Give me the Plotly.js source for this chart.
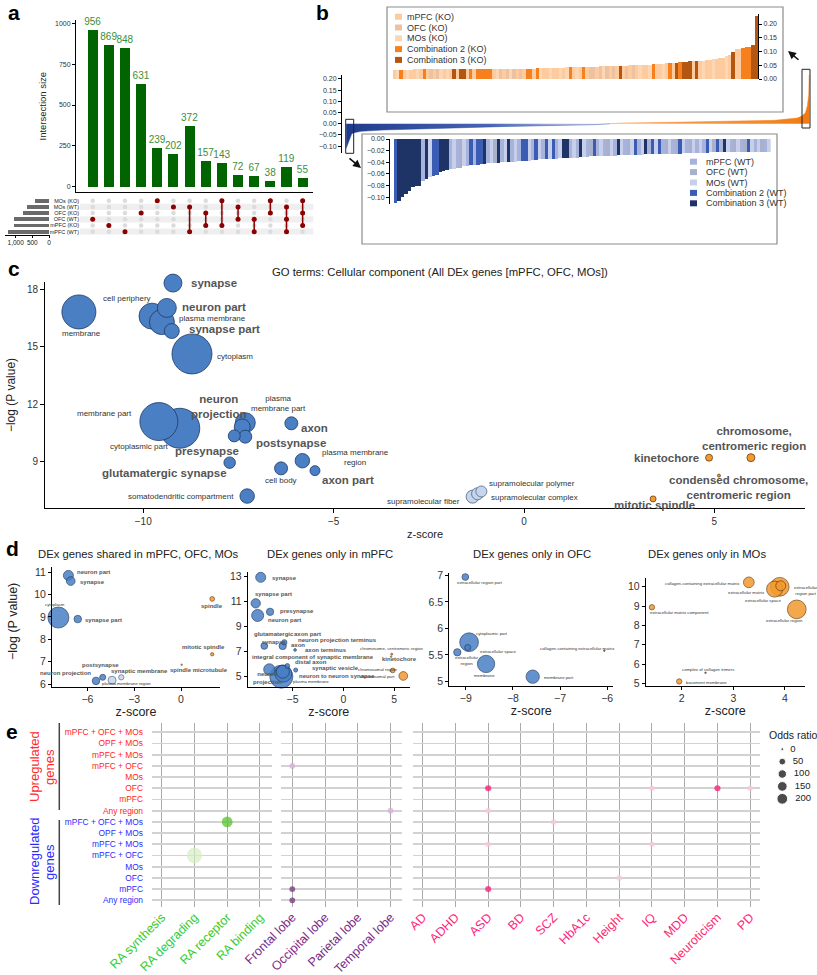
<!DOCTYPE html>
<html>
<head>
<meta charset="utf-8">
<script src="https://cdn.plot.ly/plotly-3.0.1.min.js"></script>
<style>
  html, body { margin: 0; padding: 0; background: #fff; }
  #fig { width: 817px; height: 975px; }
</style>
</head>
<body>
<div id="fig"></div>
<script>
// ---------- panel a: UpSet plot ----------
const setNames = ['MOs (KO)', 'MOs (WT)', 'OFC (KO)', 'OFC (WT)', 'mPFC (KO)', 'mPFC (WT)'];
const setSizes = [420, 670, 770, 1050, 1050, 1220];
const intersectSizes = [956, 869, 848, 631, 239, 202, 372, 157, 143, 72, 67, 38, 119, 55];
const intersectMembers = [
  ['OFC (WT)'], ['mPFC (KO)'], ['mPFC (WT)'], ['OFC (KO)'], ['MOs (KO)'], ['MOs (WT)'],
  ['MOs (WT)', 'mPFC (WT)'], ['OFC (KO)', 'mPFC (KO)'], ['MOs (KO)', 'mPFC (KO)'],
  ['MOs (WT)', 'OFC (WT)'], ['OFC (WT)', 'mPFC (WT)'], ['MOs (KO)', 'OFC (KO)'],
  ['MOs (WT)', 'OFC (WT)', 'mPFC (WT)'], ['MOs (KO)', 'OFC (KO)', 'mPFC (KO)']
];
const setSizeTicks = [0, 500, 1000];

// ---------- panel b: ranked effect sizes ----------
const wfRank  = [0, 0.4, 0.8, 1.2, 1.7, 3.2, 8, 13.9, 20, 28.3, 35, 42.4, 48, 54, 57, 60, 70, 78.2, 85, 92.5, 97.4, 98.5, 99.2, 99.6, 99.9, 100];
const wfValue = [-0.11, -0.085, -0.06, -0.045, -0.04, -0.034, -0.028, -0.024, -0.019, -0.015, -0.012, -0.009, -0.007, -0.004, 0, 0.003, 0.006, 0.009, 0.012, 0.015, 0.025, 0.035, 0.05, 0.08, 0.13, 0.23];

// top genes (KO side), in rank order
const koValues = [
  0.034, 0.034, 0.034, 0.034, 0.034, 0.034, 0.035, 0.035, 0.035, 0.035,
  0.035, 0.035, 0.035, 0.035, 0.035, 0.035, 0.035, 0.036, 0.036, 0.036,
  0.036, 0.036, 0.036, 0.036, 0.036, 0.036, 0.036, 0.036, 0.036, 0.036,
  0.037, 0.037, 0.037, 0.037, 0.037, 0.037, 0.037, 0.037, 0.038, 0.038,
  0.038, 0.038, 0.038, 0.039, 0.039, 0.039, 0.040, 0.040, 0.040, 0.041,
  0.041, 0.041, 0.042, 0.042, 0.042, 0.043, 0.043, 0.044, 0.044, 0.044,
  0.045, 0.045, 0.046, 0.046, 0.047, 0.047, 0.048, 0.048, 0.049, 0.049,
  0.049, 0.050, 0.050, 0.050, 0.051, 0.051, 0.052, 0.052, 0.053, 0.054,
  0.055, 0.056, 0.057, 0.058, 0.059, 0.060, 0.061, 0.062, 0.063, 0.064,
  0.065, 0.066, 0.066, 0.067, 0.068, 0.070, 0.072, 0.074, 0.076, 0.078,
  0.082, 0.086, 0.100, 0.108, 0.110, 0.113, 0.115, 0.116, 0.124, 0.230
];
// m = mPFC, o = OFC, s = MOs, 2 = combination 2, 3 = combination 3
const koGroups = ('ms2msmmsm2' + 'momosmsm3m' + '33m2m22222' + 'msomosomom' + '22m2smmsmm' +
  'sms2msm2mo' + 'omosomom3m' + 'omomsmms2m' + 'msm2m32333' + 'm3msmmsmmm' + 'sm3mm22233').split('');

// bottom genes (WT side), in rank order
const wtValues = [
  -0.110, -0.106, -0.100, -0.095, -0.090, -0.082, -0.081, -0.080, -0.072, -0.068,
  -0.065, -0.063, -0.062, -0.056, -0.055, -0.054, -0.052, -0.051, -0.050, -0.049,
  -0.047, -0.046, -0.045, -0.044, -0.044, -0.043, -0.043, -0.042, -0.042, -0.041,
  -0.041, -0.040, -0.040, -0.040, -0.039, -0.039, -0.038, -0.038, -0.038, -0.037,
  -0.036, -0.036, -0.035, -0.035, -0.035, -0.034, -0.034, -0.034, -0.033, -0.033,
  -0.033, -0.032, -0.032, -0.032, -0.031, -0.031, -0.031, -0.030, -0.030, -0.030,
  -0.030, -0.029, -0.029, -0.029, -0.029, -0.028, -0.028, -0.028, -0.028, -0.027,
  -0.027, -0.027, -0.027, -0.026, -0.026, -0.026, -0.026, -0.026, -0.025, -0.025,
  -0.025, -0.025, -0.025, -0.025, -0.024, -0.024, -0.024, -0.024, -0.024, -0.024,
  -0.024, -0.024, -0.023, -0.023, -0.023, -0.023, -0.023, -0.023, -0.023, -0.022,
  -0.022, -0.022, -0.022, -0.022, -0.022, -0.022, -0.022, -0.022, -0.022, -0.022
];
const wtGroups = ('23333333m3' + 's22333msmo' + 'sm2m223mso' + '3ms3msm22s' + 'm2sm2s2ms3' +
  '3msm3smo2m' + 'smosm3smos' + '2ms3m2s2mo' + 'smo2smosms' + 'm2so2m3smo' + 'smo2smsoms').split('');

const groupKeys = ['m', 'o', 's', '2', '3'];
const koNames = ['mPFC (KO)', 'OFC (KO)', 'MOs (KO)', 'Combination 2 (KO)', 'Combination 3 (KO)'];
const wtNames = ['mPFC (WT)', 'OFC (WT)', 'MOs (WT)', 'Combination 2 (WT)', 'Combination 3 (WT)'];

// ---------- panel c: GO cellular component ----------
const cTerm = ['synapse', 'cell periphery', 'neuron part', 'plasma membrane', 'synapse part', 'membrane',
  'cytoplasm', 'membrane part', 'cytoplasmic part', 'plasma membrane part', 'neuron projection',
  'presynapse', 'postsynapse', 'axon', 'glutamatergic synapse', 'cell body', 'plasma membrane region',
  'axon part', 'somatodendritic compartment', 'supramolecular fiber', 'supramolecular complex',
  'supramolecular polymer', 'kinetochore', 'chromosome, centromeric region',
  'condensed chromosome, centromeric region', 'mitotic spindle'];
const cZ    = [-9.22, -9.77, -9.38, -9.51, -9.25, -11.69, -8.72, -9.59, -9.04, -7.32, -7.40, -7.61, -7.32, -6.11, -7.73, -6.38, -5.82, -5.49, -7.27, -1.35, -1.22, -1.12, 4.86, 5.96, 5.12, 3.39];
const cLogP = [18.33, 16.6, 17.03, 16.29, 15.82, 16.82, 14.62, 11.08, 10.73, 11.02, 10.8, 10.33, 10.29, 10.99, 8.93, 8.63, 9.03, 8.51, 7.18, 7.15, 7.3, 7.42, 9.19, 9.19, 8.25, 7.03];
const cSize = [18, 26, 19, 25, 15, 34, 40, 38, 40, 20, 16, 12, 13, 13, 11.5, 13, 14.5, 10, 14.5, 13, 12, 11, 7, 8, 3, 6];
const cDir  = ['down', 'down', 'down', 'down', 'down', 'down', 'down', 'down', 'down', 'down', 'down', 'down', 'down',
  'down', 'down', 'down', 'down', 'down', 'down', 'weak', 'weak', 'weak', 'up', 'up', 'up', 'up'];
// label text, x, y, anchor, large
const cLabels = [
  ['synapse', -8.8, 18.35, 'left', 1], ['cell periphery', -10.42, 17.53, 'center', 0],
  ['neuron part', -9.04, 17.09, 'left', 1], ['plasma membrane', -9.11, 16.45, 'left', 0],
  ['synapse part', -8.86, 15.91, 'left', 1], ['membrane', -11.62, 15.7, 'center', 0],
  ['cytoplasm', -8.12, 14.51, 'left', 0], ['neuron<br>projection', -8.02, 11.86, 'center', 1],
  ['plasma<br>membrane part', -7.23, 12.04, 'left', 0], ['membrane part', -10.25, 11.48, 'right', 0],
  ['cytoplasmic part', -10.1, 9.77, 'center', 0], ['presynapse', -7.43, 9.56, 'right', 1],
  ['postsynapse', -7.1, 9.94, 'left', 1], ['axon', -5.9, 10.75, 'left', 1],
  ['plasma membrane<br>region', -5.36, 9.21, 'left', 0], ['glutamatergic synapse', -7.76, 8.37, 'right', 1],
  ['cell body', -6.38, 7.99, 'center', 0], ['axon part', -5.36, 8.02, 'left', 1],
  ['somatodendritic compartment', -7.57, 7.15, 'right', 0], ['supramolecular polymer', -0.98, 7.85, 'left', 0],
  ['supramolecular complex', -0.92, 7.12, 'left', 0], ['supramolecular fiber', -1.63, 6.91, 'right', 0],
  ['chromosome,<br>centromeric region', 6.05, 10.2, 'center', 1], ['kinetochore', 4.64, 9.19, 'right', 1],
  ['condensed chromosome,<br>centromeric region', 5.64, 7.62, 'center', 1], ['mitotic spindle', 3.43, 6.71, 'center', 1]
];

// ---------- panel d: GO terms per gene set (term, z, -logP, bubble, direction) ----------
const dShared = [
  ['neuron part', -7.22, 10.85, 10, 'down'], ['synapse', -7.07, 10.6, 8.7, 'down'],
  ['cytoplasm', -7.86, 8.97, 21, 'down'], ['synapse part', -6.62, 8.9, 7.5, 'down'],
  ['spindle', 2.0, 9.8, 4.7, 'up'], ['mitotic spindle', 2.0, 7.33, 3.3, 'up'],
  ['spindle microtubule', 0.04, 6.86, 1.5, 'up'], ['postsynapse', -5.02, 6.3, 6, 'down'],
  ['neuron projection', -5.45, 6.14, 7.5, 'down'], ['synaptic membrane', -3.83, 6.3, 5.3, 'weak'],
  ['plasma membrane region', -4.42, 6.17, 8, 'weak']
];
const dSharedLabels = [
  ['neuron part', -6.79, 10.99, 'left', 1], ['synapse', -6.58, 10.54, 'left', 1],
  ['cytoplasm', -8.08, 9.53, 'center', 0], ['synapse part', -6.26, 8.86, 'left', 1],
  ['spindle', 1.99, 9.48, 'center', 1], ['mitotic spindle', 1.43, 7.67, 'center', 1],
  ['spindle microtubule', 1.13, 6.63, 'center', 1], ['postsynapse', -5.19, 6.83, 'center', 1],
  ['neuron projection', -7.39, 6.48, 'center', 1], ['synaptic membrane', -2.63, 6.58, 'center', 1],
  ['plasma membrane region', -3.48, 6.03, 'center', 0]
];
const dMpfc = [
  ['plasma membrane', -6.1, 5.0, 23, 'down'], ['neuron to neuron synapse', -5.9, 5.25, 17, 'down'],
  ['integral component of synaptic membrane', -5.95, 5.4, 13, 'down'],
  ['synapse', -8.13, 12.95, 10, 'down'], ['synapse part', -8.62, 10.87, 9.3, 'down'],
  ['neuron part', -8.43, 9.9, 12, 'down'], ['presynapse', -7.21, 10.19, 7.3, 'down'],
  ['glutamatergic synapse', -7.78, 7.46, 6.7, 'down'], ['axon part', -5.81, 7.75, 5.3, 'down'],
  ['axon', -5.97, 7.46, 7.3, 'down'], ['axon terminus', -4.75, 7.14, 2.7, 'down'],
  ['distal axon', -5.51, 5.86, 4.7, 'down'], ['synaptic vesicle', -4.69, 5.53, 4, 'down'],
  ['neuron projection', -7.28, 5.58, 11.3, 'down'],
  ['chromosome, centromeric region', 4.76, 6.8, 2, 'up'], ['kinetochore', 4.7, 6.6, 1.5, 'up'],
  ['chromosomal region', 4.86, 5.5, 4.7, 'up'], ['chromosomal part', 5.9, 5.06, 8.7, 'up']
];
const dMpfcLabels = [
  ['synapse', -7.21, 12.92, 'left', 1], ['synapse part', -8.86, 11.62, 'left', 1],
  ['presynapse', -6.4, 10.28, 'left', 1], ['neuron part', -7.64, 9.51, 'left', 1],
  ['glutamatergic<br>synapse', -8.96, 8.12, 'left', 1], ['axon part', -5.08, 8.39, 'left', 1],
  ['neuron projection terminus', -4.69, 7.91, 'left', 1], ['axon', -5.31, 7.51, 'left', 1],
  ['axon terminus', -3.94, 7.14, 'left', 1], ['integral component of synaptic membrane', -9.18, 6.6, 'left', 1],
  ['distal axon', -4.92, 6.15, 'left', 1], ['synaptic vesicle', -3.28, 5.67, 'left', 1],
  ['neuron to neuron synapse', -4.59, 5.06, 'left', 1], ['neuron<br>projection', -9.11, 4.92, 'left', 1],
  ['plasma membrane', -5.18, 4.63, 'left', 0], ['chromosome, centromeric region', 1.48, 7.27, 'left', 0],
  ['kinetochore', 3.61, 6.44, 'left', 1], ['chromosomal region', 1.25, 5.54, 'left', 0],
  ['chromosomal part', 1.48, 5.0, 'left', 0]
];
const dOfc = [
  ['cytoplasmic part', -8.93, 5.74, 18.7, 'down'], ['membrane', -8.57, 5.33, 17.3, 'down'],
  ['membrane part', -7.58, 5.09, 13.3, 'down'], ['extracellular region part', -9.01, 6.97, 6.7, 'down'],
  ['extracellular region', -9.18, 5.55, 7.3, 'down'], ['extracellular space', -8.96, 5.64, 6, 'down'],
  ['collagen-containing extracellular matrix', -6.06, 5.58, 1.5, 'dot']
];
const dOfcLabels = [
  ['extracellular region part', -9.23, 6.86, 'left', 0], ['cytoplasmic part', -8.83, 5.91, 'left', 0],
  ['extracellular space', -8.75, 5.56, 'left', 0], ['extracellular<br>region', -9.28, 5.39, 'left', 0],
  ['membrane', -8.6, 5.11, 'center', 0], ['membrane part', -7.39, 5.07, 'left', 0],
  ['collagen-containing extracellular matrix', -6.64, 5.63, 'center', 0]
];
const dMos = [
  ['extracellular region', 4.23, 8.83, 18.7, 'up'], ['extracellular region part', 3.90, 10.0, 18.7, 'up'],
  ['extracellular matrix', 3.80, 9.88, 16, 'up'], ['collagen-containing extracellular matrix', 3.30, 10.23, 10.7, 'up'],
  ['extracellular space', 3.92, 10.05, 10, 'up'], ['extracellular matrix component', 1.42, 8.94, 5.3, 'up'],
  ['basement membrane', 1.95, 5.10, 5.3, 'up'], ['complex of collagen trimers', 2.46, 5.55, 1.5, 'dot']
];
const dMosLabels = [
  ['collagen-containing extracellular matrix', 3.16, 10.18, 'right', 0], ['extracellular matrix', 3.66, 9.71, 'right', 0],
  ['extracellular space', 3.58, 9.3, 'center', 0], ['extracellular<br>region part', 4.13, 9.83, 'left', 0],
  ['extracellular region', 4.0, 8.23, 'center', 0], ['extracellular matrix component', 1.35, 8.66, 'left', 0],
  ['complex of collagen trimers', 2.5, 5.73, 'center', 0], ['basement membrane', 2.05, 5.05, 'left', 0]
];

// ---------- panel e: enrichment dot plot ----------
const eRowLabels = ['mPFC + OFC + MOs', 'OPF + MOs', 'mPFC + MOs', 'mPFC + OFC', 'MOs', 'OFC', 'mPFC', 'Any region'];
const raCols = ['RA synthesis', 'RA degrading', 'RA receptor', 'RA binding'];
const lobeCols = ['Frontal lobe', 'Occipital lobe', 'Parietal lobe', 'Temporal lobe'];
const traitCols = ['AD', 'ADHD', 'ASD', 'BD', 'SCZ', 'HbA1c', 'Height', 'IQ', 'MDD', 'Neuroticism', 'PD'];
const eHitCol = ['Frontal lobe', 'Temporal lobe', 'RA receptor', 'RA degrading', 'Frontal lobe', 'Frontal lobe',
  'ASD', 'IQ', 'Neuroticism', 'PD', 'ASD', 'SCZ', 'ASD', 'IQ', 'Height', 'ASD'];
const eHitDir = ['up', 'up', 'down', 'down', 'down', 'down', 'up', 'up', 'up', 'up', 'up', 'down', 'down', 'down', 'down', 'down'];
const eHitRow = ['mPFC + OFC', 'Any region', 'mPFC + OFC + MOs', 'mPFC + OFC', 'mPFC', 'Any region', 'OFC', 'OFC',
  'OFC', 'OFC', 'Any region', 'mPFC + OFC + MOs', 'mPFC + MOs', 'mPFC + MOs', 'OFC', 'mPFC'];
const eHitOR = [30, 30, 200, 500, 30, 30, 35, 30, 35, 30, 30, 30, 30, 30, 30, 35];
const eHitStrong = [0, 0, 1, 0, 1, 1, 1, 0, 1, 0, 0, 0, 0, 0, 0, 1];
const orLegend = [0, 50, 100, 150, 200];

// ---------- helpers ----------
const W = 817, H = 975;
const FONT = 'Arial, "Liberation Sans", sans-serif';
const fx = p => p / W;
const fy = p => 1 - p / H;
const domX = (a, b) => [fx(a), fx(b)];
const domY = (top, bottom) => [fy(bottom), fy(top)];
const orSize = v => 2.7 + 0.57 * Math.sqrt(v);

const traces = [];
const annotations = [];
const shapes = [];
const layout = {
  width: W, height: H, margin: { l: 0, r: 0, t: 0, b: 0 },
  paper_bgcolor: '#fff', plot_bgcolor: 'rgba(0,0,0,0)',
  showlegend: false, barmode: 'overlay', bargap: 0,
  font: { family: FONT, color: '#222' },
  annotations: annotations, shapes: shapes
};
const lineAxis = {
  showline: true, linecolor: '#000', linewidth: 1, ticks: 'outside', ticklen: 3, tickcolor: '#000',
  showgrid: false, zeroline: false, tickfont: { size: 10, color: '#333' }
};

// ---------- panel a ----------
const barPx0 = 92.7, barStep = 16.15;
const barRange = (a, b) => [(a - barPx0) / barStep, (b - barPx0) / barStep];
const idx = intersectSizes.map((v, i) => i);

layout.xaxis = { domain: domX(76, 313.3), range: barRange(76, 313.3), anchor: 'y', showline: true, linecolor: '#000',
  showticklabels: false, ticks: '', showgrid: false, zeroline: false };
layout.yaxis = Object.assign({}, lineAxis, { domain: domY(20, 192.3), range: [-34, 1020], anchor: 'x',
  tickvals: [0, 250, 500, 750, 1000], tickfont: { size: 7, color: '#333' },
  title: { text: 'Intersection size', font: { size: 9.5 }, standoff: 6 } });
traces.push({ type: 'bar', x: idx, y: intersectSizes, xaxis: 'x', yaxis: 'y', width: 0.62,
  marker: { color: '#006400' }, text: intersectSizes.map(String), textposition: 'outside', constraintext: 'none',
  textfont: { size: 10, color: '#3A8F3A' }, cliponaxis: false, hoverinfo: 'skip' });

layout.xaxis2 = { domain: domX(80, 313.3), range: barRange(80, 313.3), anchor: 'y2', visible: false };
layout.yaxis2 = { domain: domY(197.6, 234.8), range: [5.5, -0.5], anchor: 'x2', tickvals: setNames.map((s, i) => i),
  ticktext: setNames, tickfont: { size: 5.5, color: '#222' }, ticks: '', showgrid: false, zeroline: false, showline: false };
setNames.forEach((s, j) => {
  if (s.indexOf('(WT)') >= 0) {
    shapes.push({ type: 'rect', xref: 'x2 domain', yref: 'y2', x0: 0, x1: 1, y0: j - 0.5, y1: j + 0.5,
      fillcolor: '#EFEFEF', line: { width: 0 }, layer: 'below' });
  }
});
const gx = [], gy = [], ax = [], ay = [], lx = [], ly = [];
intersectMembers.forEach((m, i) => {
  setNames.forEach((s, j) => { gx.push(i); gy.push(j); });
  const rows = m.map(s => setNames.indexOf(s));
  rows.forEach(r => { ax.push(i); ay.push(r); });
  if (rows.length > 1) { lx.push(i, i, null); ly.push(Math.min(...rows), Math.max(...rows), null); }
});
traces.push({ type: 'scatter', mode: 'markers', x: gx, y: gy, xaxis: 'x2', yaxis: 'y2',
  marker: { color: '#DCDCDC', size: 4.5 }, hoverinfo: 'skip' });
traces.push({ type: 'scatter', mode: 'lines', x: lx, y: ly, xaxis: 'x2', yaxis: 'y2',
  line: { color: '#8B0000', width: 1.5 }, hoverinfo: 'skip' });
traces.push({ type: 'scatter', mode: 'markers', x: ax, y: ay, xaxis: 'x2', yaxis: 'y2',
  marker: { color: '#8B0000', size: 5 }, hoverinfo: 'skip' });

// set sizes: horizontal bars growing leftwards
const ssRange = [1320, -30];
layout.xaxis3 = Object.assign({}, lineAxis, { domain: domX(5, 50), range: ssRange, anchor: 'y3',
  tickvals: setSizeTicks, showticklabels: false, ticklen: 2 });
layout.yaxis3 = { domain: domY(197.6, 234.8), range: [5.5, -0.5], anchor: 'x3', showline: false,
  showticklabels: false, ticks: '', showgrid: false, zeroline: false };
traces.push({ type: 'bar', orientation: 'h', x: setSizes, y: setNames.map((s, i) => i), xaxis: 'x3', yaxis: 'y3',
  width: 0.6, marker: { color: '#6A6A6A' }, hoverinfo: 'skip' });
// tick labels of the set-size axis, on a thin hidden strip that shares its x scale
layout.xaxis16 = { domain: domX(5, 50), range: ssRange, anchor: 'y16', visible: false };
layout.yaxis16 = { domain: domY(237, 249), range: [0, 1], anchor: 'x16', visible: false };
traces.push({ type: 'scatter', mode: 'text', x: setSizeTicks, y: setSizeTicks.map(() => 0.5), xaxis: 'x16', yaxis: 'y16',
  text: setSizeTicks.map(v => v.toLocaleString('en-US')), textposition: 'middle center', cliponaxis: false,
  textfont: { size: 6.5, color: '#222' }, hoverinfo: 'skip' });

// ---------- panel b ----------
layout.xaxis4 = { domain: domX(342, 812), range: [-0.9, 100.6], anchor: 'y4', visible: false };
layout.yaxis4 = Object.assign({}, lineAxis, { domain: domY(75, 153), range: [-0.1306, 0.2171], anchor: 'x4',
  tickvals: [-0.1, -0.05, 0, 0.05, 0.1, 0.15, 0.2], tickformat: '.2f', tickfont: { size: 7, color: '#333' } });
const negX = [], negY = [], posX = [], posY = [];
wfRank.forEach((r, i) => {
  if (wfValue[i] <= 0) { negX.push(r); negY.push(wfValue[i]); }
  if (wfValue[i] >= 0) { posX.push(r); posY.push(wfValue[i]); }
});
traces.push({ type: 'scatter', mode: 'lines', x: negX, y: negY, xaxis: 'x4', yaxis: 'y4', fill: 'tozeroy',
  line: { width: 0.5, color: '#2D4C9E' }, fillcolor: '#3556A8',
  fillgradient: { type: 'horizontal', colorscale: [[0, '#1E3A8C'], [0.55, '#4866B6'], [1, '#E8ECF6']] },
  hoverinfo: 'skip' });
traces.push({ type: 'scatter', mode: 'lines', x: posX, y: posY, xaxis: 'x4', yaxis: 'y4', fill: 'tozeroy',
  line: { width: 0.5, color: '#F58220' }, fillcolor: '#F58220',
  fillgradient: { type: 'horizontal', colorscale: [[0, '#FCE6D2'], [0.3, '#F6A458'], [1, '#F27A10']] },
  hoverinfo: 'skip' });

const koColors = { m: '#FDCB9E', o: '#ECC2A2', s: '#FDD6B3', '2': '#F7801E', '3': '#B4560F' };
const wtColors = { m: '#A7B3DA', o: '#A9B0CB', s: '#C8CFEA', '2': '#3A5CB5', '3': '#1F3466' };
function groupBars(values, groups, colors, xa, ya) {
  groupKeys.forEach(g => {
    const xs = [], ys = [];
    values.forEach((v, i) => { if (groups[i] === g) { xs.push(i); ys.push(v); } });
    traces.push({ type: 'bar', x: xs, y: ys, xaxis: xa, yaxis: ya, width: 1,
      marker: { color: colors[g], line: { width: 0 } }, hoverinfo: 'skip' });
  });
}
// KO inset
shapes.push({ type: 'rect', xref: 'paper', yref: 'paper', x0: fx(387), x1: fx(783), y0: fy(112), y1: fy(7),
  line: { color: '#8C8C8C', width: 1.2 }, fillcolor: '#fff', layer: 'below' });
layout.xaxis5 = { domain: domX(392.7, 758), range: [-0.5, 109.5], anchor: 'y5', visible: false };
layout.yaxis5 = Object.assign({}, lineAxis, { domain: domY(14.4, 79), range: [0, 0.235], anchor: 'x5', side: 'right',
  tickvals: [0, 0.05, 0.1, 0.15, 0.2], tickformat: '.2f', tickfont: { size: 7, color: '#333' } });
groupBars(koValues, koGroups, koColors, 'x5', 'y5');
// WT inset
shapes.push({ type: 'rect', xref: 'paper', yref: 'paper', x0: fx(362), x1: fx(777), y0: fy(244), y1: fy(134),
  line: { color: '#8C8C8C', width: 1.2 }, fillcolor: '#fff', layer: 'below' });
layout.xaxis6 = { domain: domX(394, 770.7), range: [-0.5, 109.5], anchor: 'y6', visible: false };
layout.yaxis6 = Object.assign({}, lineAxis, { domain: domY(139, 204), range: [-0.1115, 0], anchor: 'free',
  position: fx(389), tickvals: [0, -0.02, -0.04, -0.06, -0.08, -0.1], tickformat: '.2f', tickfont: { size: 7, color: '#333' } });
groupBars(wtValues, wtGroups, wtColors, 'x6', 'y6');

function swatchLegend(names, colors, sx, tx, y0, step) {
  names.forEach((n, i) => {
    const yc = y0 + i * step;
    shapes.push({ type: 'rect', xref: 'paper', yref: 'paper', x0: fx(sx), x1: fx(sx + 7), y0: fy(yc + 3), y1: fy(yc - 3),
      fillcolor: colors[groupKeys[i]], line: { width: 0 } });
    annotations.push({ xref: 'paper', yref: 'paper', x: fx(tx), y: fy(yc), text: n, showarrow: false,
      xanchor: 'left', yanchor: 'middle', font: { size: 9, color: '#333' } });
  });
}
swatchLegend(koNames, koColors, 395, 405, 16.7, 10.8);
swatchLegend(wtNames, wtColors, 690, 704, 161.7, 10.4);

// zoom boxes and arrows
shapes.push({ type: 'rect', xref: 'paper', yref: 'paper', x0: fx(345.7), x1: fx(353.7), y0: fy(153.3), y1: fy(119.3),
  line: { color: '#222', width: 1 } });
shapes.push({ type: 'rect', xref: 'paper', yref: 'paper', x0: fx(802), x1: fx(810), y0: fy(128), y1: fy(69.3),
  line: { color: '#222', width: 1 } });
annotations.push({ xref: 'paper', yref: 'paper', x: fx(361), y: fy(168), ax: -13, ay: -11, text: '', showarrow: true,
  arrowhead: 2, arrowsize: 1, arrowwidth: 1.6, arrowcolor: '#111' });
annotations.push({ xref: 'paper', yref: 'paper', x: fx(788), y: fy(51), ax: 12, ay: 10, text: '', showarrow: true,
  arrowhead: 2, arrowsize: 1, arrowwidth: 1.6, arrowcolor: '#111' });

// ---------- panel c ----------
const fillOf = { down: '#4A7FC4', weak: '#C6D5EC', up: '#F39A2E', dot: '#555' };
const edgeOf = { down: '#1E3A66', weak: '#4F6487', up: '#6B3F0C', dot: '#333' };
function bubbleTrace(terms, zs, ps, sizes, dirs, xa, ya, opacity) {
  const order = sizes.map((s, i) => i).sort((a, b) => sizes[b] - sizes[a]);
  traces.push({ type: 'scatter', mode: 'markers', xaxis: xa, yaxis: ya, cliponaxis: false,
    x: order.map(i => zs[i]), y: order.map(i => ps[i]), text: order.map(i => terms[i]), hoverinfo: 'text',
    marker: { size: order.map(i => sizes[i]), color: order.map(i => fillOf[dirs[i]]), opacity: opacity,
      line: { color: order.map(i => edgeOf[dirs[i]]), width: 0.8 } } });
}
function addLabels(list, xa, ya, bigSize, smallSize, bigBold, smallBold) {
  list.forEach(l => {
    const big = l[4] === 1;
    const bold = big ? bigBold : smallBold;
    annotations.push({ xref: xa, yref: ya, x: l[1], y: l[2], text: bold ? '<b>' + l[0] + '</b>' : l[0],
      xanchor: l[3], yanchor: 'middle', showarrow: false,
      font: { size: big ? bigSize : smallSize, color: bold ? '#555' : '#333' } });
  });
}
layout.xaxis7 = Object.assign({}, lineAxis, { domain: domX(45, 805), range: [-12.58, 7.38], anchor: 'y7',
  tickvals: [-10, -5, 0, 5], ticklen: 4,
  title: { text: 'z-score', font: { size: 11 }, standoff: 4 } });
layout.yaxis7 = Object.assign({}, lineAxis, { domain: domY(282, 508), range: [6.555, 18.387], anchor: 'x7',
  tickvals: [9, 12, 15, 18], ticklen: 4,
  title: { text: '\u2212log (P value)', font: { size: 12 }, standoff: 8 } });
bubbleTrace(cTerm, cZ, cLogP, cSize, cDir, 'x7', 'y7', 1);
addLabels(cLabels, 'x7', 'y7', 11.5, 8, true, false);
annotations.push({ xref: 'paper', yref: 'paper', x: fx(440), y: fy(272), text: 'GO terms: Cellular component (All DEx genes [mPFC, OFC, MOs])',
  showarrow: false, xanchor: 'center', yanchor: 'middle', font: { size: 11.3, color: '#222' } });

// ---------- panel d ----------
function dPanel(n, rows, labels, dx, dy, xr, yr, xt, yt, title, titleX) {
  layout['xaxis' + n] = Object.assign({}, lineAxis, { domain: domX(dx[0], dx[1]), range: xr, anchor: 'y' + n, tickvals: xt,
    tickfont: { size: 10.5, color: '#333' }, title: { text: 'z-score', font: { size: 12.5 }, standoff: 1 } });
  layout['yaxis' + n] = Object.assign({}, lineAxis, { domain: domY(dy[0], dy[1]), range: yr, anchor: 'x' + n, tickvals: yt,
    tickfont: { size: 10.5, color: '#333' } });
  bubbleTrace(rows.map(r => r[0]), rows.map(r => r[1]), rows.map(r => r[2]), rows.map(r => r[3]), rows.map(r => r[4]),
    'x' + n, 'y' + n, 0.85);
  addLabels(labels, 'x' + n, 'y' + n, 6, 4.3, true, false);
  annotations.push({ xref: 'paper', yref: 'paper', x: fx(titleX), y: fy(554), text: title, showarrow: false,
    xanchor: 'center', yanchor: 'middle', font: { size: 11.3, color: '#222' } });
}
dPanel(8, dShared, dSharedLabels, [52, 220], [566.7, 686.7], [-8.27, 2.5], [5.88, 11.24], [-6, -3, 0], [6, 7, 8, 9, 10, 11],
  'DEx genes shared in mPFC, OFC, MOs', 138);
dPanel(9, dMpfc, dMpfcLabels, [247.7, 410], [571.7, 686.7], [-9.41, 6.56], [4.2, 13.4], [-5, 0, 5], [5, 7, 9, 11, 13],
  'DEx genes only in mPFC', 330);
dPanel(10, dOfc, dOfcLabels, [449.3, 613.3], [573.3, 685.7], [-9.35, -5.87], [4.92, 7.04], [-9, -8, -7, -6], [5, 5.5, 6, 6.5, 7],
  'DEx genes only in OFC', 532);
dPanel(11, dMos, dMosLabels, [645.7, 805], [577.7, 685.7], [1.30, 4.39], [4.88, 10.47], [2, 3, 4], [5, 6, 7, 8, 9, 10],
  'DEx genes only in MOs', 707);
annotations.push({ xref: 'paper', yref: 'paper', x: fx(13), y: fy(622), text: '\u2212log (P value)', textangle: -90,
  showarrow: false, xanchor: 'center', yanchor: 'middle', font: { size: 12.5, color: '#222' } });

// ---------- panel e ----------
const eRowPx0 = 732.3, eRowStep = 11.2;
const eYRange = [(906.7 - eRowPx0) / eRowStep, (723 - eRowPx0) / eRowStep];
const eRowTick = eRowLabels.map(l => '<span style="color:#FF2424">' + l + '</span>')
  .concat(eRowLabels.map(l => '<span style="color:#2B2BFF">' + l + '</span>'));
const eGroups = [
  { cols: raCols, d0: 151.7, d1: 271.7, p0: 161.7, color: '#33CC33', hi: '#4CC11F', lo: '#D5ECC3' },
  { cols: lobeCols, d0: 281, d1: 401.7, p0: 292.3, color: '#7B2A85', hi: '#6E2A6E', lo: '#D7AADB' },
  { cols: traitCols, d0: 412.7, d1: 760, p0: 422.7, color: '#FF1F7A', hi: '#FF0A6C', lo: '#F9C6DE' }
];
const eColStep = 32.75;
eGroups.forEach((g, k) => {
  const n = 12 + k;
  layout['xaxis' + n] = { domain: domX(g.d0, g.d1), range: [(g.d0 - g.p0) / eColStep, (g.d1 - g.p0) / eColStep],
    anchor: 'y' + n, tickvals: g.cols.map((c, i) => i), ticktext: g.cols, tickangle: -45,
    tickfont: { size: 12.5, color: g.color }, showgrid: true, gridcolor: '#ABABAB', gridwidth: 1,
    zeroline: false, showline: false, ticks: '' };
  layout['yaxis' + n] = { domain: domY(723, 906.7), range: [eYRange[0], eYRange[1]], anchor: 'x' + n,
    tickvals: eRowTick.map((t, i) => i), ticktext: eRowTick, showticklabels: k === 0,
    tickfont: { size: 8.4 }, ticks: 'outside', ticklen: 6, tickcolor: 'rgba(0,0,0,0)',
    showgrid: true, gridcolor: '#D2D2D2', gridwidth: 1.8, zeroline: false, showline: false };
  const xs = [], ys = [], ss = [], cs = [];
  eHitCol.forEach((c, i) => {
    const ci = g.cols.indexOf(c);
    if (ci < 0) return;
    xs.push(ci);
    ys.push((eHitDir[i] === 'up' ? 0 : 8) + eRowLabels.indexOf(eHitRow[i]));
    ss.push(orSize(eHitOR[i]));
    cs.push(eHitStrong[i] ? g.hi : g.lo);
  });
  traces.push({ type: 'scatter', mode: 'markers', x: xs, y: ys, xaxis: 'x' + n, yaxis: 'y' + n, cliponaxis: false,
    marker: { size: ss, color: cs, line: { width: 0 } }, hoverinfo: 'skip' });
});
[['Upregulated', 34, 767, '#FF2A2A'], ['genes', 49, 767, '#FF2A2A'],
 ['Downregulated', 34, 862, '#2A2AFF'], ['genes', 49, 862, '#2A2AFF']].forEach(t => {
  annotations.push({ xref: 'paper', yref: 'paper', x: fx(t[1]), y: fy(t[2]), text: t[0], textangle: -90,
    showarrow: false, xanchor: 'center', yanchor: 'middle', font: { size: 13, color: t[3] } });
});
shapes.push({ type: 'line', xref: 'paper', yref: 'paper', x0: fx(59.3), x1: fx(59.3), y0: fy(810), y1: fy(723),
  line: { color: '#444', width: 1.5 } });
shapes.push({ type: 'line', xref: 'paper', yref: 'paper', x0: fx(59.3), x1: fx(59.3), y0: fy(905), y1: fy(820),
  line: { color: '#444', width: 1.5 } });

// odds ratio legend
layout.xaxis15 = { domain: domX(776, 788.6), range: [-1, 1], anchor: 'y15', visible: false };
layout.yaxis15 = { domain: domY(743, 805), range: [4.5, -0.5], anchor: 'x15', visible: false };
traces.push({ type: 'scatter', mode: 'markers+text', x: orLegend.map(() => 0), y: orLegend.map((v, i) => i),
  xaxis: 'x15', yaxis: 'y15', cliponaxis: false, text: orLegend.map(v => '  ' + v), textposition: 'middle right',
  textfont: { size: 9.5, color: '#222' }, marker: { size: orLegend.map(orSize), color: '#000' }, hoverinfo: 'skip' });
annotations.push({ xref: 'paper', yref: 'paper', x: fx(767), y: fy(735), text: 'Odds ratio', showarrow: false,
  xanchor: 'left', yanchor: 'middle', font: { size: 10.5, color: '#222' } });

// ---------- panel letters ----------
[['a', 14, 13], ['b', 322, 12.5], ['c', 14, 268], ['d', 12, 548], ['e', 12, 731]].forEach(p => {
  annotations.push({ xref: 'paper', yref: 'paper', x: fx(p[1]), y: fy(p[2]), text: '<b>' + p[0] + '</b>',
    showarrow: false, xanchor: 'center', yanchor: 'middle', font: { size: 21, color: '#000' } });
});

Plotly.newPlot('fig', traces, layout, { displayModeBar: false, staticPlot: true });
</script>
</body>
</html>
